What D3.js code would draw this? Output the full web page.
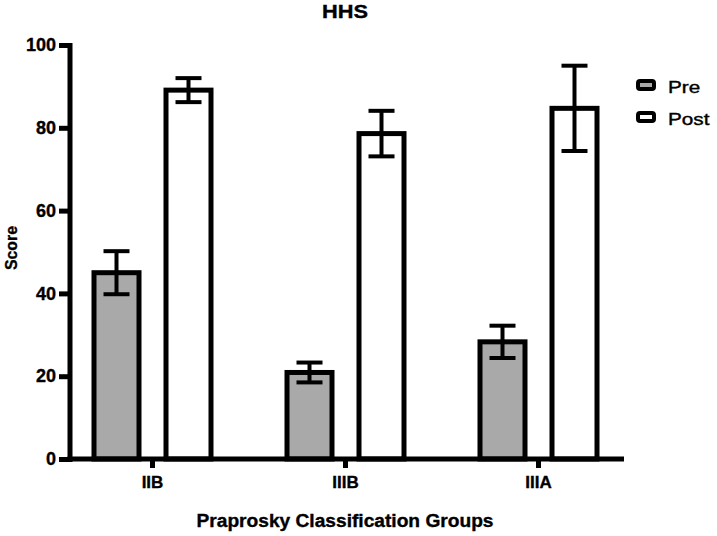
<!DOCTYPE html>
<html><head><meta charset="utf-8">
<script src="https://cdn.jsdelivr.net/npm/d3@7"></script>
<style>body{margin:0;background:#fff}text{font-family:"Liberation Sans",Arial,sans-serif;font-weight:bold}</style>
</head><body>
<script>
const categories = ["IIB", "IIIB", "IIIA"];
const seriesNames = ["Pre", "Post"];
const preMeans = [45, 20.9, 28.3];
const preErr = [5.2, 2.4, 3.9];
const postMeans = [89.1, 78.6, 84.7];
const postErr = [2.9, 5.5, 10.3];
const yTicks = [0, 20, 40, 60, 80, 100];
const title = "HHS";
const yLabel = "Score";
const xLabel = "Praprosky Classification Groups";
const colors = {Pre: "#a9a9a9", Post: "#ffffff"};

const W = 717, H = 536;
const svg = d3.select("body").append("svg").attr("width", W).attr("height", H);

const y = d3.scaleLinear().domain([0, 100]).range([459, 45]);
const x0 = d3.scaleBand().domain(categories).range([56, 635]).paddingInner(0);
const x1 = d3.scaleBand().domain(seriesNames).range([-58.5, 58.5]).paddingInner(0.375);

const data = [];
categories.forEach((c, i) => {
  data.push({cat: c, s: "Pre", v: preMeans[i], e: preErr[i]});
  data.push({cat: c, s: "Post", v: postMeans[i], e: postErr[i]});
});
const cx = d => x0(d.cat) + x0.bandwidth() / 2 + x1(d.s);

// bars
svg.selectAll("rect.bar").data(data).enter().append("rect")
  .attr("x", d => cx(d)).attr("width", x1.bandwidth())
  .attr("y", d => y(d.v)).attr("height", d => y(0) - y(d.v))
  .attr("fill", d => colors[d.s]).attr("stroke", "#000").attr("stroke-width", 5);

// error bars
const eb = svg.selectAll("g.eb").data(data).enter().append("g").attr("stroke", "#000").attr("stroke-width", 4);
const mid = d => cx(d) + x1.bandwidth() / 2;
eb.append("line").attr("x1", mid).attr("x2", mid)
  .attr("y1", d => y(d.v + d.e)).attr("y2", d => y(d.v - d.e));
eb.append("line").attr("x1", d => mid(d) - 13).attr("x2", d => mid(d) + 13)
  .attr("y1", d => y(d.v + d.e)).attr("y2", d => y(d.v + d.e));
eb.append("line").attr("x1", d => mid(d) - 13).attr("x2", d => mid(d) + 13)
  .attr("y1", d => y(d.v - d.e)).attr("y2", d => y(d.v - d.e));

const heavy = sel => sel.attr("stroke", "#000").attr("stroke-width", 0.35).attr("fill", "#000");

// y axis
const yAxis = d3.axisLeft(y).tickValues(yTicks).tickSize(11).tickPadding(3).tickSizeOuter(0);
const gy = svg.append("g").attr("transform", "translate(70,0)").call(yAxis);
gy.select(".domain").attr("stroke-width", 5).attr("d", `M0,${y(100)-2}V${y(0)+3}`);
gy.selectAll(".tick line").attr("stroke-width", 5);
gy.selectAll(".tick text").attr("font-size", 18).attr("font-weight", "bold")
  .attr("font-family", "Liberation Sans, Arial, sans-serif").call(heavy);

// x axis
const xAxis = d3.axisBottom(x0).tickSize(9).tickPadding(8).tickSizeOuter(0);
const gx = svg.append("g").attr("transform", `translate(0,${y(0)})`).call(xAxis);
gx.select(".domain").attr("stroke-width", 5).attr("d", "M67.5,0H624");
gx.selectAll(".tick line").attr("stroke-width", 5);
gx.selectAll(".tick text").attr("font-size", 17).attr("font-weight", "bold")
  .attr("font-family", "Liberation Sans, Arial, sans-serif").call(heavy);

// titles
svg.append("text").attr("x", 345).attr("y", 18).attr("text-anchor", "middle").attr("font-size", 18)
  .attr("textLength", 46).attr("lengthAdjust", "spacingAndGlyphs").call(heavy).text(title);
svg.append("text").attr("transform", "translate(17,248) rotate(-90)").attr("text-anchor", "middle").attr("font-size", 17)
  .attr("textLength", 44).attr("lengthAdjust", "spacingAndGlyphs").call(heavy).text(yLabel);
svg.append("text").attr("x", 345).attr("y", 527).attr("text-anchor", "middle").attr("font-size", 18)
  .attr("textLength", 297).attr("lengthAdjust", "spacingAndGlyphs").call(heavy).text(xLabel);

// legend
const lg = svg.selectAll("g.lg").data(seriesNames).enter().append("g")
  .attr("transform", (d, i) => `translate(638,${81 + i * 32})`);
lg.append("rect").attr("width", 16).attr("height", 8).attr("rx", 2)
  .attr("fill", d => colors[d]).attr("stroke", "#000").attr("stroke-width", 4);
lg.append("text").attr("transform", "translate(30,12) scale(1.22,1)").attr("font-size", 17)
  .style("font-weight", "normal").attr("stroke", "#000").attr("stroke-width", 0.4).text(d => d);
</script>
</body></html>
